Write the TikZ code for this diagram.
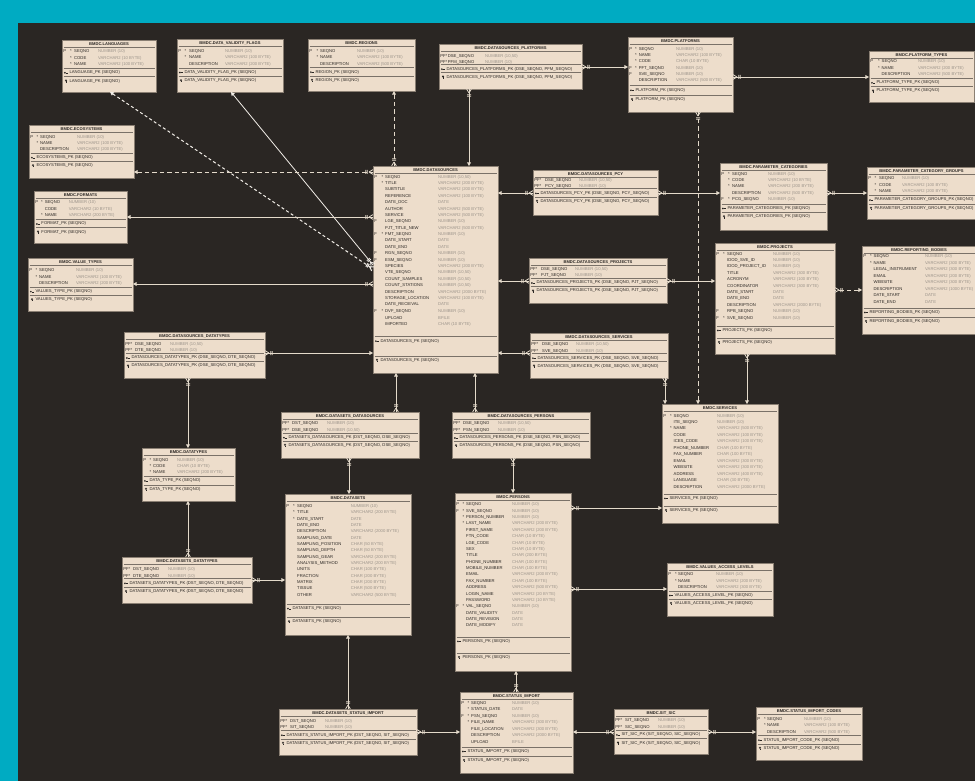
\documentclass[tikz,border=0pt]{standalone}
\usepackage{fontspec}
\setmainfont{Liberation Sans}
\usetikzlibrary{arrows.meta}
\definecolor{teal0}{HTML}{00ABC2}
\definecolor{bg0}{HTML}{2A2623}
\definecolor{boxf}{HTML}{EDDDCB}
\definecolor{boxl}{HTML}{8A7F73}
\definecolor{sepc}{HTML}{7A7168}
\definecolor{txt0}{HTML}{2B2724}
\definecolor{typ0}{HTML}{9C948B}
\definecolor{lnk0}{HTML}{E4DACB}
\definecolor{lnkw}{HTML}{F2EEE8}
\pgfdeclarearrow{
  name = Crow,
  setup code = {
    \pgfarrowssettipend{0pt}
    \pgfarrowssetlineend{0pt}
    \pgfarrowssetbackend{-8pt}
    \pgfarrowshullpoint{0pt}{2.5pt}
    \pgfarrowshullpoint{0pt}{-2.5pt}
    \pgfarrowshullpoint{-8pt}{2.5pt}
    \pgfarrowshullpoint{-8pt}{-2.5pt}
  },
  drawing code = {
    \pgfsetdash{}{0pt}
    \pgfpathmoveto{\pgfqpoint{-4pt}{0pt}}
    \pgfpathlineto{\pgfqpoint{0pt}{2.4pt}}
    \pgfpathmoveto{\pgfqpoint{-4pt}{0pt}}
    \pgfpathlineto{\pgfqpoint{0pt}{-2.4pt}}
    \pgfpathmoveto{\pgfqpoint{-5.8pt}{2pt}}
    \pgfpathlineto{\pgfqpoint{-5.8pt}{-2pt}}
    \pgfpathmoveto{\pgfqpoint{-7.3pt}{2pt}}
    \pgfpathlineto{\pgfqpoint{-7.3pt}{-2pt}}
    \pgfusepathqstroke
  }
}
\tikzset{
  tbl/.style={draw=boxl, fill=boxf, line width=0.8pt, inner sep=0pt, outer sep=0pt},
  ttl/.style={font=\bfseries\fontsize{4.1}{5}\selectfont, text=txt0, inner sep=0pt},
  rowt/.style={font=\fontsize{4.2}{5}\selectfont, text=txt0, anchor=west, inner sep=0pt},
  sepl/.style={draw=sepc, line width=0.8pt},
  rel/.style={draw=lnk0, line width=0.8pt, arrows={Triangle[length=3.6pt,width=3.8pt]-Crow}},
  reld/.style={rel, dash pattern=on 4.5pt off 3pt},
  relw/.style={rel, draw=lnkw, line width=1pt, dash pattern=on 3pt off 2.5pt},
  iconl/.style={draw=txt0, line width=0.45pt},
}
\newcount\nid
\newcommand\ertable[6]{%
  \node[tbl, anchor=north west, minimum width={#4-#2}, minimum height={#5-#3}] (#1) at (#2,#3) {};
  \def\eTx{#2}\def\eTy{#3}\def\eTxe{#4}%
  \global\advance\nid by 1\relax
  \node[ttl] (n\the\nid) at ({(#2+#4)/2},{#3+4}) {#6};
  \draw[sepl] ({#2+1.5},{#3+7.5}) -- ({#4-1.5},{#3+7.5});}
\newcommand\ercols[5]{\def\eSx{#1}\def\eNx{#2}\def\eTyx{#3}\pgfmathsetmacro\eRy{\eTy+#4}\def\eRp{#5}}
\newcommand\erow[4]{%
  \global\advance\nid by 1\relax
  \node[rowt] (n\the\nid) at ({\eTx+1.2},\eRy) {\makebox[\dimexpr\eSx pt-1.2pt\relax][l]{#1}\makebox[\dimexpr\eNx pt-\eSx pt\relax][l]{#2}\makebox[\dimexpr\eTyx pt-\eNx pt\relax][l]{#3}\textcolor{typ0}{#4}};
  \let\eLast\eRy
  \pgfmathsetmacro\eRy{\eRy+\eRp}}
\newcommand\pkicon[2]{%
  \draw[iconl] ({#1-0.4},{#2+0.4}) -- ({#1+1.9},{#2+0.4});
  \fill[txt0] ({#1-1.1},{#2+0.2}) circle (0.95);}
\newcommand\idxicon[2]{%
  \draw[iconl] (#1,{#2-0.5}) circle (0.8);
  \draw[iconl] (#1,{#2+0.3}) -- (#1,{#2+1.7});}
\newcommand\erkeys[4]{%
  \pgfmathsetmacro\eYa{\eLast+#3}
  \draw[sepl] ({\eTx+1.5},\eYa) -- ({\eTxe-1.5},\eYa);
  \pgfmathsetmacro\eYb{\eYa+4.3}
  \pkicon{\eTx+4}{\eYb}
  \global\advance\nid by 1\relax
  \node[rowt] (n\the\nid) at ({\eTx+7.3},\eYb) {#1};
  \pgfmathsetmacro\eYc{\eYb+#4}
  \draw[sepl] ({\eTx+1.5},\eYc) -- ({\eTxe-1.5},\eYc);
  \pgfmathsetmacro\eYd{\eYc+4.3}
  \idxicon{\eTx+4}{\eYd}
  \global\advance\nid by 1\relax
  \node[rowt] (n\the\nid) at ({\eTx+7.3},\eYd) {#2};}
\begin{document}
\catcode`\_=12
\begin{tikzpicture}[x=1pt,y=-1pt]
\useasboundingbox (0,0) rectangle (975,781);
\clip (0,0) rectangle (975,781);
\fill[teal0] (0,0) rectangle (975,781);
\fill[bg0] (18,23) rectangle (976,782);

% ---------- tables ----------
\ertable{lang}{62}{40}{156}{92}{BMDC.LANGUAGES}
\ercols{8}{12}{36}{11.7}{6.5}
\erow{P}{*}{SEQNO}{NUMBER (10)}
\erow{}{*}{CODE}{VARCHAR2 (10 BYTE)}
\erow{}{*}{NAME}{VARCHAR2 (100 BYTE)}
\erkeys{LANGUAGE_PK (SEQNO)}{LANGUAGE_PK (SEQNO)}{3.6}{4.2}

\ertable{dvf}{177}{39}{283}{92}{BMDC.DATA_VALIDITY_FLAGS}
\ercols{7.5}{12}{48}{12.5}{6.3}
\erow{P}{*}{SEQNO}{NUMBER (10)}
\erow{}{*}{NAME}{VARCHAR2 (100 BYTE)}
\erow{}{}{DESCRIPTION}{VARCHAR2 (200 BYTE)}
\erkeys{DATA_VALIDITY_FLAG_PK (SEQNO)}{DATA_VALIDITY_FLAG_PK (SEQNO)}{3.9}{4.2}

\ertable{rgn}{308}{39}{415}{91}{BMDC.REGIONS}
\ercols{8.5}{12}{49}{12.5}{6.3}
\erow{P}{*}{SEQNO}{NUMBER (10)}
\erow{}{*}{NAME}{VARCHAR2 (100 BYTE)}
\erow{}{}{DESCRIPTION}{VARCHAR2 (500 BYTE)}
\erkeys{REGION_PK (SEQNO)}{REGION_PK (SEQNO)}{3.6}{4}

\ertable{dspf}{439}{44}{582}{89}{BMDC.DATASOURCES_PLATFORMS}
\ercols{6.5}{8.7}{46}{12.3}{6}
\erow{PF}{*}{DSE_SEQNO}{NUMBER (10,50)}
\erow{PF}{*}{PFM_SEQNO}{NUMBER (10)}
\erkeys{DATASOURCES_PLATFORMS_PK (DSE_SEQNO, PFM_SEQNO)}{DATASOURCES_PLATFORMS_PK (DSE_SEQNO, PFM_SEQNO)}{2.4}{3.7}

\ertable{plat}{628}{37}{733}{112}{BMDC.PLATFORMS}
\ercols{7}{10.6}{48}{12.3}{6.3}
\erow{P}{*}{SEQNO}{NUMBER (10)}
\erow{}{*}{NAME}{VARCHAR2 (100 BYTE)}
\erow{}{*}{CODE}{CHAR (10 BYTE)}
\erow{F}{*}{PFT_SEQNO}{NUMBER (10)}
\erow{F}{}{SVE_SEQNO}{NUMBER (10)}
\erow{}{}{DESCRIPTION}{VARCHAR2 (500 BYTE)}
\erkeys{PLATFORM_PK (SEQNO)}{PLATFORM_PK (SEQNO)}{5}{5}

\ertable{ptyp}{869}{51}{974}{102}{BMDC.PLATFORM_TYPES}
\ercols{9}{12.5}{49}{10.7}{6.3}
\erow{P}{*}{SEQNO}{NUMBER (10)}
\erow{}{*}{NAME}{VARCHAR2 (200 BYTE)}
\erow{}{}{DESCRIPTION}{VARCHAR2 (500 BYTE)}
\erkeys{PLATFORM_TYPE_PK (SEQNO)}{PLATFORM_TYPE_PK (SEQNO)}{4}{4}

\ertable{eco}{29}{125}{134}{178}{BMDC.ECOSYSTEMS}
\ercols{7.5}{11}{48}{12}{6.3}
\erow{P}{*}{SEQNO}{NUMBER (10)}
\erow{}{*}{NAME}{VARCHAR2 (100 BYTE)}
\erow{}{}{DESCRIPTION}{VARCHAR2 (200 BYTE)}
\erkeys{ECOSYSTEMS_PK (SEQNO)}{ECOSYSTEMS_PK (SEQNO)}{3.6}{4}

\ertable{fmt}{34}{191}{127}{243}{BMDC.FORMATS}
\ercols{7}{10.7}{34.7}{11.7}{6.3}
\erow{P}{*}{SEQNO}{NUMBER (10)}
\erow{}{}{CODE}{VARCHAR2 (10 BYTE)}
\erow{}{*}{NAME}{VARCHAR2 (200 BYTE)}
\erkeys{FORMAT_PK (SEQNO)}{FORMAT_PK (SEQNO)}{4.2}{4}

\ertable{vtyp}{28}{258}{133}{311}{BMDC.VALUE_TYPES}
\ercols{7.5}{11}{48}{12.7}{6.3}
\erow{P}{*}{SEQNO}{NUMBER (10)}
\erow{}{*}{NAME}{VARCHAR2 (100 BYTE)}
\erow{}{}{DESCRIPTION}{VARCHAR2 (200 BYTE)}
\erkeys{VALUES_TYPE_PK (SEQNO)}{VALUES_TYPE_PK (SEQNO)}{3.8}{4}

\ertable{ds}{373}{166}{498}{373}{BMDC.DATASOURCES}
\ercols{8.5}{12}{65}{11}{6.39}
\erow{P}{*}{SEQNO}{NUMBER (10,50)}
\erow{}{*}{TITLE}{VARCHAR2 (200 BYTE)}
\erow{}{}{SUBTITLE}{VARCHAR2 (200 BYTE)}
\erow{}{}{REFERENCE}{VARCHAR2 (100 BYTE)}
\erow{}{}{DATE_DOC}{DATE}
\erow{}{}{AUTHOR}{VARCHAR2 (500 BYTE)}
\erow{}{}{SERVICE}{VARCHAR2 (500 BYTE)}
\erow{F}{}{LGE_SEQNO}{NUMBER (10)}
\erow{}{}{PJT_TITLE_NEW}{VARCHAR2 (500 BYTE)}
\erow{F}{*}{FMT_SEQNO}{NUMBER (10)}
\erow{}{}{DATE_START}{DATE}
\erow{}{}{DATE_END}{DATE}
\erow{F}{}{RGN_SEQNO}{NUMBER (10)}
\erow{F}{}{ESM_SEQNO}{NUMBER (10)}
\erow{}{}{SPECIES}{VARCHAR2 (200 BYTE)}
\erow{}{}{VTE_SEQNO}{NUMBER (10,50)}
\erow{}{}{COUNT_SAMPLES}{NUMBER (10,50)}
\erow{}{}{COUNT_STATIONS}{NUMBER (10,50)}
\erow{}{}{DESCRIPTION}{VARCHAR2 (2000 BYTE)}
\erow{}{}{STORAGE_LOCATION}{VARCHAR2 (100 BYTE)}
\erow{}{}{DATE_RECIEVAL}{DATE}
\erow{F}{*}{DVF_SEQNO}{NUMBER (10)}
\erow{}{}{UPLOAD}{BFILE}
\erow{}{}{IMPORTED}{CHAR (10 BYTE)}
\erkeys{DATASOURCES_PK (SEQNO)}{DATASOURCES_PK (SEQNO)}{12.7}{15}

\ertable{dspcy}{533}{170}{658}{215}{BMDC.DATASOURCES_PCY}
\ercols{6.5}{12}{46}{10}{6.3}
\erow{PF}{*}{DSE_SEQNO}{NUMBER (10,50)}
\erow{PF}{*}{PCY_SEQNO}{NUMBER (10)}
\erkeys{DATASOURCES_PCY_PK (DSE_SEQNO, PCY_SEQNO)}{DATASOURCES_PCY_PK (DSE_SEQNO, PCY_SEQNO)}{2.6}{3.8}

\ertable{pcat}{720}{163}{827}{230}{BMDC.PARAMETER_CATEGORIES}
\ercols{8}{12}{48}{11.3}{6.3}
\erow{P}{*}{SEQNO}{NUMBER (10)}
\erow{}{*}{CODE}{VARCHAR2 (10 BYTE)}
\erow{}{*}{NAME}{VARCHAR2 (200 BYTE)}
\erow{}{}{DESCRIPTION}{VARCHAR2 (500 BYTE)}
\erow{F}{*}{PCG_SEQNO}{NUMBER (10)}
\erkeys{PARAMETER_CATEGORIES_PK (SEQNO)}{PARAMETER_CATEGORIES_PK (SEQNO)}{4.5}{4.2}

\ertable{pcg}{867}{167}{976}{219}{BMDC.PARAMETER_CATEGORY_GROUPS}
\ercols{7.5}{12}{35}{11.7}{6.3}
\erow{P}{*}{SEQNO}{NUMBER (10)}
\erow{}{*}{CODE}{VARCHAR2 (100 BYTE)}
\erow{}{*}{NAME}{VARCHAR2 (200 BYTE)}
\erkeys{PARAMETER_CATEGORY_GROUPS_PK (SEQNO)}{PARAMETER_CATEGORY_GROUPS_PK (SEQNO)}{4.3}{4}

\ertable{rpb}{862}{246}{976}{334}{BMDC.REPORTING_BODIES}
\ercols{8}{11.5}{63}{10.7}{6.47}
\erow{P}{*}{SEQNO}{NUMBER (10)}
\erow{}{*}{NAME}{VARCHAR2 (300 BYTE)}
\erow{}{}{LEGAL_INSTRUMENT}{VARCHAR2 (300 BYTE)}
\erow{}{}{EMAIL}{VARCHAR2 (200 BYTE)}
\erow{}{}{WEBSITE}{VARCHAR2 (300 BYTE)}
\erow{}{}{DESCRIPTION}{VARCHAR2 (1000 BYTE)}
\erow{}{}{DATE_START}{DATE}
\erow{}{}{DATE_END}{DATE}
\erkeys{REPORTING_BODIES_PK (SEQNO)}{REPORTING_BODIES_PK (SEQNO)}{6}{5}

\ertable{prj}{715}{243}{835}{354}{BMDC.PROJECTS}
\ercols{8}{12}{58}{11}{6.4}
\erow{P}{*}{SEQNO}{NUMBER (10)}
\erow{}{}{IDOD_SVE_ID}{NUMBER (10)}
\erow{}{}{IDOD_PROJECT_ID}{NUMBER (10)}
\erow{}{}{TITLE}{VARCHAR2 (300 BYTE)}
\erow{}{}{ACRONYM}{VARCHAR2 (100 BYTE)}
\erow{}{}{COORDINATOR}{VARCHAR2 (300 BYTE)}
\erow{}{}{DATE_START}{DATE}
\erow{}{}{DATE_END}{DATE}
\erow{}{}{DESCRIPTION}{VARCHAR2 (2000 BYTE)}
\erow{F}{}{RPB_SEQNO}{NUMBER (10)}
\erow{F}{*}{SVE_SEQNO}{NUMBER (10)}
\erkeys{PROJECTS_PK (SEQNO)}{PROJECTS_PK (SEQNO)}{8}{8}

\ertable{svc}{662}{404}{778}{523}{BMDC.SERVICES}
\ercols{8}{11.5}{55}{12}{6.45}
\erow{P}{*}{SEQNO}{NUMBER (10)}
\erow{}{}{ITE_SEQNO}{NUMBER (10)}
\erow{}{*}{NAME}{VARCHAR2 (500 BYTE)}
\erow{}{}{CODE}{VARCHAR2 (100 BYTE)}
\erow{}{}{ICES_CODE}{VARCHAR2 (100 BYTE)}
\erow{}{}{PHONE_NUMBER}{CHAR (100 BYTE)}
\erow{}{}{FAX_NUMBER}{CHAR (100 BYTE)}
\erow{}{}{EMAIL}{VARCHAR2 (300 BYTE)}
\erow{}{}{WEBSITE}{VARCHAR2 (300 BYTE)}
\erow{}{}{ADDRESS}{VARCHAR2 (400 BYTE)}
\erow{}{}{LANGUAGE}{CHAR (30 BYTE)}
\erow{}{}{DESCRIPTION}{VARCHAR2 (2000 BYTE)}
\erkeys{SERVICES_PK (SEQNO)}{SERVICES_PK (SEQNO)}{7}{8}

\ertable{dspj}{529}{258}{667}{303}{BMDC.DATASOURCES_PROJECTS}
\ercols{6.5}{12}{46}{11.3}{6.4}
\erow{PF}{*}{DSE_SEQNO}{NUMBER (10,50)}
\erow{PF}{*}{PJT_SEQNO}{NUMBER (10)}
\erkeys{DATASOURCES_PROJECTS_PK (DSE_SEQNO, PJT_SEQNO)}{DATASOURCES_PROJECTS_PK (DSE_SEQNO, PJT_SEQNO)}{2.8}{3.8}

\ertable{dssv}{530}{333}{668}{378}{BMDC.DATASOURCES_SERVICES}
\ercols{6.5}{12}{46}{11.3}{6.7}
\erow{PF}{*}{DSE_SEQNO}{NUMBER (10,50)}
\erow{PF}{*}{SVE_SEQNO}{NUMBER (10)}
\erkeys{DATASOURCES_SERVICES_PK (DSE_SEQNO, SVE_SEQNO)}{DATASOURCES_SERVICES_PK (DSE_SEQNO, SVE_SEQNO)}{2.7}{3.8}

\ertable{dsdt}{124}{332}{265}{378}{BMDC.DATASOURCES_DATATYPES}
\ercols{6.5}{11}{46}{12}{6.3}
\erow{PF}{*}{DSE_SEQNO}{NUMBER (10,50)}
\erow{PF}{*}{DTE_SEQNO}{NUMBER (10)}
\erkeys{DATASOURCES_DATATYPES_PK (DSE_SEQNO, DTE_SEQNO)}{DATASOURCES_DATATYPES_PK (DSE_SEQNO, DTE_SEQNO)}{3.2}{3.8}

\ertable{dtyp}{142}{448}{235}{501}{BMDC.DATATYPES}
\ercols{7.5}{11}{35}{12}{6.35}
\erow{P}{*}{SEQNO}{NUMBER (10)}
\erow{}{*}{CODE}{CHAR (10 BYTE)}
\erow{}{*}{NAME}{VARCHAR2 (200 BYTE)}
\erkeys{DATA_TYPE_PK (SEQNO)}{DATA_TYPE_PK (SEQNO)}{3.7}{4.3}

\ertable{dsds}{281}{412}{419}{458}{BMDC.DATASETS_DATASOURCES}
\ercols{6.5}{11}{46}{11.3}{6.7}
\erow{PF}{*}{DST_SEQNO}{NUMBER (10)}
\erow{PF}{*}{DSE_SEQNO}{NUMBER (10,50)}
\erkeys{DATASETS_DATASOURCES_PK (DST_SEQNO, DSE_SEQNO)}{DATASETS_DATASOURCES_PK (DST_SEQNO, DSE_SEQNO)}{3.2}{3.5}

\ertable{dsp}{452}{412}{590}{458}{BMDC.DATASOURCES_PERSONS}
\ercols{6.5}{11}{46}{11.7}{6.4}
\erow{PF}{*}{DSE_SEQNO}{NUMBER (10,50)}
\erow{PF}{*}{PSN_SEQNO}{NUMBER (10)}
\erkeys{DATASOURCES_PERSONS_PK (DSE_SEQNO, PSN_SEQNO)}{DATASOURCES_PERSONS_PK (DSE_SEQNO, PSN_SEQNO)}{3.4}{3.6}

\ertable{dset}{285}{494}{411}{635}{BMDC.DATASETS}
\ercols{8}{12}{65.7}{12.3}{6.34}
\erow{P}{*}{SEQNO}{NUMBER (10)}
\erow{}{*}{TITLE}{VARCHAR2 (200 BYTE)}
\erow{}{*}{DATE_START}{DATE}
\erow{}{}{DATE_END}{DATE}
\erow{}{}{DESCRIPTION}{VARCHAR2 (2000 BYTE)}
\erow{}{}{SAMPLING_DATE}{DATE}
\erow{}{}{SAMPLING_POSITION}{CHAR (50 BYTE)}
\erow{}{}{SAMPLING_DEPTH}{CHAR (50 BYTE)}
\erow{}{}{SAMPLING_GEAR}{VARCHAR2 (200 BYTE)}
\erow{}{}{ANALYSIS_METHOD}{VARCHAR2 (200 BYTE)}
\erow{}{}{UNITS}{CHAR (100 BYTE)}
\erow{}{}{FRACTION}{CHAR (200 BYTE)}
\erow{}{}{MATRIX}{CHAR (200 BYTE)}
\erow{}{}{TISSUE}{CHAR (500 BYTE)}
\erow{}{}{OTHER}{VARCHAR2 (500 BYTE)}
\erkeys{DATASETS_PK (SEQNO)}{DATASETS_PK (SEQNO)}{9}{9}

\ertable{psn}{455}{493}{571}{671}{BMDC.PERSONS}
\ercols{7.5}{11}{57}{11.7}{6.38}
\erow{P}{*}{SEQNO}{NUMBER (10)}
\erow{F}{*}{SVE_SEQNO}{NUMBER (10)}
\erow{}{*}{PERSON_NUMBER}{NUMBER (10)}
\erow{}{*}{LAST_NAME}{VARCHAR2 (200 BYTE)}
\erow{}{}{FIRST_NAME}{VARCHAR2 (200 BYTE)}
\erow{}{}{FTN_CODE}{CHAR (10 BYTE)}
\erow{}{}{LGE_CODE}{CHAR (10 BYTE)}
\erow{}{}{SEX}{CHAR (10 BYTE)}
\erow{}{}{TITLE}{CHAR (200 BYTE)}
\erow{}{}{PHONE_NUMBER}{CHAR (100 BYTE)}
\erow{}{}{MOBILE_NUMBER}{CHAR (100 BYTE)}
\erow{}{}{EMAIL}{VARCHAR2 (200 BYTE)}
\erow{}{}{FAX_NUMBER}{CHAR (100 BYTE)}
\erow{}{}{ADDRESS}{VARCHAR2 (500 BYTE)}
\erow{}{}{LOGIN_NAME}{VARCHAR2 (20 BYTE)}
\erow{}{}{PASSWORD}{VARCHAR2 (10 BYTE)}
\erow{F}{*}{VAL_SEQNO}{NUMBER (10)}
\erow{}{}{DATE_VALIDITY}{DATE}
\erow{}{}{DATE_REVISION}{DATE}
\erow{}{}{DATE_MODIFY}{DATE}
\erkeys{PERSONS_PK (SEQNO)}{PERSONS_PK (SEQNO)}{11}{12}

\ertable{dsetdt}{122}{557}{252}{603}{BMDC.DATASETS_DATATYPES}
\ercols{6.5}{11}{46}{12.7}{6.3}
\erow{PF}{*}{DST_SEQNO}{NUMBER (10)}
\erow{PF}{*}{DTE_SEQNO}{NUMBER (10)}
\erkeys{DATASETS_DATATYPES_PK (DST_SEQNO, DTE_SEQNO)}{DATASETS_DATATYPES_PK (DST_SEQNO, DTE_SEQNO)}{2.8}{4}

\ertable{dssi}{279}{709}{417}{755}{BMDC.DATASETS_STATUS_IMPORT}
\ercols{6.5}{11}{46}{12.3}{6}
\erow{PF}{*}{DST_SEQNO}{NUMBER (10)}
\erow{PF}{*}{SIT_SEQNO}{NUMBER (10)}
\erkeys{DATASETS_STATUS_IMPORT_PK (DST_SEQNO, SIT_SEQNO)}{DATASETS_STATUS_IMPORT_PK (DST_SEQNO, SIT_SEQNO)}{3.4}{4}

\ertable{simp}{460}{692}{573}{773}{BMDC.STATUS_IMPORT}
\ercols{7.5}{11}{52}{11}{6.5}
\erow{P}{*}{SEQNO}{NUMBER (10)}
\erow{}{*}{STATUS_DATE}{DATE}
\erow{F}{*}{PSN_SEQNO}{NUMBER (10)}
\erow{}{*}{FILE_NAME}{VARCHAR2 (300 BYTE)}
\erow{}{}{FILE_LOCATION}{VARCHAR2 (300 BYTE)}
\erow{}{}{DESCRIPTION}{VARCHAR2 (2000 BYTE)}
\erow{}{}{UPLOAD}{BFILE}
\erkeys{STATUS_IMPORT_PK (SEQNO)}{STATUS_IMPORT_PK (SEQNO)}{5}{5}

\ertable{sitsic}{614}{709}{708}{754}{BMDC.SIT_SIC}
\ercols{6.5}{11}{44}{11.7}{6.3}
\erow{PF}{*}{SIT_SEQNO}{NUMBER (10)}
\erow{PF}{*}{SIC_SEQNO}{NUMBER (10)}
\erkeys{SIT_SIC_PK (SIT_SEQNO, SIC_SEQNO)}{SIT_SIC_PK (SIT_SEQNO, SIC_SEQNO)}{3.4}{4}

\ertable{sic}{756}{707}{862}{760}{BMDC.STATUS_IMPORT_CODES}
\ercols{8}{11}{48}{12}{6.5}
\erow{P}{*}{SEQNO}{NUMBER (10)}
\erow{}{*}{NAME}{VARCHAR2 (100 BYTE)}
\erow{}{}{DESCRIPTION}{VARCHAR2 (500 BYTE)}
\erkeys{STATUS_IMPORT_CODE_PK (SEQNO)}{STATUS_IMPORT_CODE_PK (SEQNO)}{3.7}{4}

\ertable{val}{667}{563}{773}{616}{BMDC.VALUES_ACCESS_LEVELS}
\ercols{8}{11}{49}{11.3}{6.7}
\erow{P}{*}{SEQNO}{NUMBER (10)}
\erow{}{*}{NAME}{VARCHAR2 (200 BYTE)}
\erow{}{}{DESCRIPTION}{VARCHAR2 (300 BYTE)}
\erkeys{VALUES_ACCESS_LEVEL_PK (SEQNO)}{VALUES_ACCESS_LEVEL_PK (SEQNO)}{3.3}{4}

% ---------- relations (arrow at referenced table, crow at referencing table) ----------
\draw[relw] (110,0 |- lang.south) -- (ds.west |- 0,269);
\draw[rel, draw=lnkw] (231,0 |- dvf.south) -- (ds.west |- 0,265);
\draw[reld] (eco.east |- 0,172) -- (ds.west |- 0,172);
\draw[rel] (fmt.east |- 0,217) -- (ds.west |- 0,217);
\draw[rel] (vtyp.east |- 0,284) -- (ds.west |- 0,284);
\draw[rel] (ds.west |- 0,353) -- (dsdt.east |- 0,353);
\draw[rel] (188,0 |- dtyp.north) -- (188,0 |- dsdt.south);
\draw[rel] (188,0 |- dtyp.south) -- (188,0 |- dsetdt.north);
\draw[rel] (dset.west |- 0,580) -- (dsetdt.east |- 0,580);
\draw[rel] (348,0 |- dset.south) -- (348,0 |- dssi.north);
\draw[rel] (simp.west |- 0,732) -- (dssi.east |- 0,732);
\draw[rel] (simp.east |- 0,732) -- (sitsic.west |- 0,732);
\draw[rel] (sic.west |- 0,732) -- (sitsic.east |- 0,732);
\draw[rel] (516,0 |- psn.south) -- (516,0 |- simp.north);
\draw[rel] (svc.west |- 0,508) -- (psn.east |- 0,508);
\draw[rel] (val.west |- 0,589) -- (psn.east |- 0,589);
\draw[rel] (513,0 |- psn.north) -- (513,0 |- dsp.south);
\draw[rel] (475,0 |- ds.south) -- (475,0 |- dsp.north);
\draw[rel] (396,0 |- ds.south) -- (396,0 |- dsds.north);
\draw[rel] (349,0 |- dset.north) -- (349,0 |- dsds.south);
\draw[rel] (ds.east |- 0,281) -- (dspj.west |- 0,281);
\draw[rel] (prj.west |- 0,281) -- (dspj.east |- 0,281);
\draw[rel] (ds.east |- 0,353) -- (dssv.west |- 0,353);
\draw[rel] (665,0 |- svc.north) -- (665,0 |- dssv.south);
\draw[rel] (747,0 |- svc.north) -- (747,0 |- prj.south);
\draw[reld] (rpb.west |- 0,290) -- (prj.east |- 0,290);
\draw[reld] (698,0 |- svc.north) -- (698,0 |- plat.south);
\draw[rel] (plat.west |- 0,67) -- (dspf.east |- 0,67);
\draw[rel] (469,0 |- ds.north) -- (469,0 |- dspf.south);
\draw[reld] (394,0 |- rgn.south) -- (394,0 |- ds.north);
\draw[rel] (ds.east |- 0,193) -- (dspcy.west |- 0,193);
\draw[rel] (pcat.west |- 0,193) -- (dspcy.east |- 0,193);
\draw[rel] (pcg.west |- 0,193) -- (pcat.east |- 0,193);
\draw[rel] (ptyp.west |- 0,77) -- (plat.east |- 0,77);
\end{tikzpicture}
\end{document}
